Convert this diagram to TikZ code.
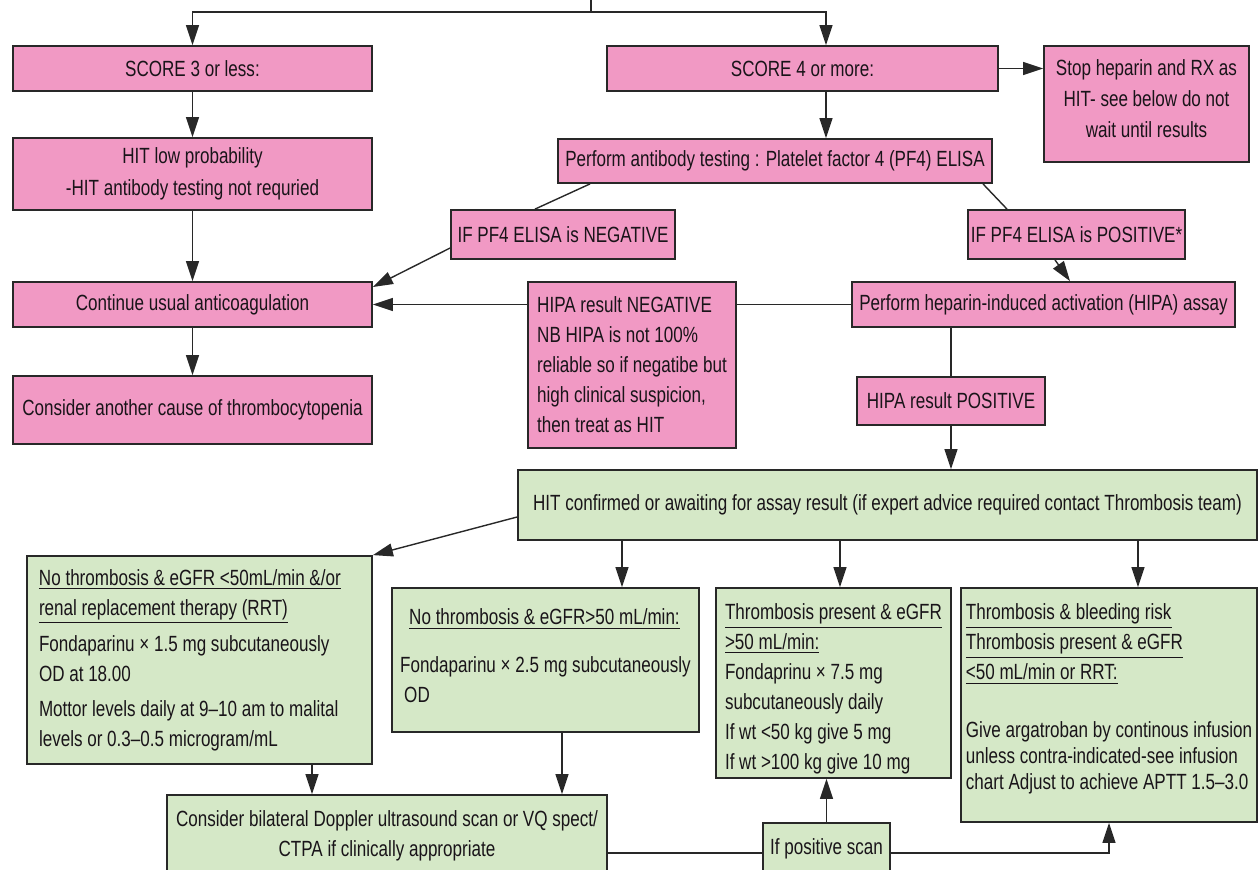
\documentclass[tikz,border=0pt]{standalone}
\usepackage{fontspec}
\setmainfont[FakeStretch=0.775]{Liberation Sans}
\usetikzlibrary{arrows.meta}
\definecolor{pinkfill}{RGB}{241,153,196}
\definecolor{greenfill}{RGB}{213,232,199}
\definecolor{edge}{RGB}{40,40,40}
\definecolor{ink}{RGB}{25,20,25}
\begin{document}
\begin{tikzpicture}[x=0.5pt,y=-0.5pt]
  \tikzstyle{base}=[draw=edge,line width=0.9pt,inner sep=0pt,text=ink,font=\fontsize{11}{15}\selectfont]
  \tikzstyle{pbox}=[base,fill=pinkfill,align=center]
  \tikzstyle{gbox}=[base,fill=greenfill,align=left]
  \tikzstyle{lin}=[draw=edge,line width=0.7pt]
  \tikzstyle{arr}=[lin,-{Triangle[width=6.5pt,length=10pt]}]
  \useasboundingbox (0,0) rectangle (1259,869);
  \node(s3)[pbox,minimum width=179.5pt,minimum height=22.5pt] at (192.5,68.5) {SCORE 3 or less:};
  \node(s4)[pbox,minimum width=195.5pt,minimum height=22.5pt] at (802.5,68.5) {SCORE 4 or more:};
  \node(stop)[pbox,minimum width=102.5pt,minimum height=58pt] at (1146.5,104)
    {Stop heparin and RX as\\[0.5pt] HIT- see below do not\\[0.5pt] wait until results\\[-10pt]\mbox{}};
  \node(low)[pbox,minimum width=179.5pt,minimum height=36pt] at (192.5,174)
    {HIT low probability\\[1pt] -HIT antibody testing not requried};
  \node(pf4)[pbox,minimum width=217pt,minimum height=22pt] at (775,161)
    {Perform antibody testing : Platelet factor 4 (PF4) ELISA};
  \node(neg)[pbox,minimum width=112pt,minimum height=24.5pt] at (563,234.5) {IF PF4 ELISA is NEGATIVE};
  \node(pos)[pbox,minimum width=108.5pt,minimum height=24.5pt] at (1076.5,234.5) {IF PF4 ELISA is POSITIVE*};
  \node(cont)[pbox,minimum width=179.5pt,minimum height=22.5pt] at (192.5,304.5) {Continue usual anticoagulation};
  \node(other)[pbox,minimum width=179.5pt,minimum height=34pt] at (192.5,410)
    {Consider another cause of thrombocytopenia};
  \node(hneg)[pbox,align=left,minimum width=104pt,minimum height=83pt] at (632,365)
    {HIPA result NEGATIVE\\ NB HIPA is not 100\%\\ reliable so if negatibe but\\ high clinical suspicion,\\ then treat as HIT};
  \node(assay)[pbox,minimum width=191.5pt,minimum height=22.5pt] at (1043.5,304.5)
    {Perform heparin-induced activation (HIPA) assay};
  \node(hpos)[pbox,minimum width=94pt,minimum height=24pt] at (951,401) {HIPA result POSITIVE};
  \node(conf)[gbox,align=center,minimum width=369.5pt,minimum height=35pt] at (887.5,505)
    {HIT confirmed or awaiting for assay result (if expert advice required contact Thrombosis team)};
  \node(g1)[gbox,align=flush left,text width=160.5pt,inner xsep=6pt,minimum width=172.5pt,minimum height=104pt] at (199.5,660)
    {\underline{No thrombosis \& eGFR <50mL/min \&/or}\\
     \underline{renal replacement therapy (RRT)}\\[3pt]
     Fondaparinu × 1.5 mg subcutaneously\\
     OD at 18.00\\[2.5pt]
     Mottor levels daily at 9–10 am to malital\\
     levels or 0.3–0.5 microgram/mL};
  \node(g2)[gbox,minimum width=153.5pt,minimum height=72pt] at (545.5,660)
    {\hspace*{4.5pt}\underline{No thrombosis \& eGFR>50 mL/min:}\\[9pt]
     Fondaparinu × 2.5 mg subcutaneously\\
     \hspace*{2pt}OD\\[-11pt]\mbox{}};
  \node(g3)[gbox,minimum width=117.5pt,minimum height=95pt] at (833.5,683)
    {\mbox{}\\[-1pt]
     \underline{Thrombosis present \& eGFR}\\
     \underline{>50 mL/min:}\\
     Fondaprinu × 7.5 mg\\
     subcutaneously daily\\
     If wt <50 kg give 5 mg\\
     If wt >100 kg give 10 mg};
  \node(g4)[gbox,minimum width=148pt,minimum height=117pt] at (1109,705)
    {\underline{Thrombosis \& bleeding risk}\\
     \underline{Thrombosis present \& eGFR}\\
     \underline{<50 mL/min or RRT:}\\[14pt]
     Give argatroban by continous infusion\\[-2pt]
     unless contra-indicated-see infusion\\[-2pt]
     chart Adjust to achieve APTT 1.5–3.0\\[-7pt]
     \mbox{}};
  \node(dop)[gbox,align=center,minimum width=220pt,minimum height=41pt] at (387,836)
    {Consider bilateral Doppler ultrasound scan or VQ spect/\\
     CTPA if clinically appropriate\\[-12.5pt]\mbox{}};
  \node(ifpos)[gbox,align=center,minimum width=63.5pt,minimum height=26pt] at (826.5,849)
    {If positive scan\\[-12.5pt]\mbox{}};
  \coordinate(top) at (591,0);
  \coordinate(split) at (591,12);
  \draw[lin] (top) -- (split);
  \draw[arr] (split) -| (s3.north);
  \draw[arr] (split) -| (s4.north -| 826,0);
  \draw[arr] (s3) -- (low);
  \draw[arr] (s4.east) -- (s4.east -| stop.west);
  \draw[arr] (s4.south -| 826,0) -- (pf4.north -| 826,0);
  \draw[arr] (low) -- (cont);
  \draw[arr] (cont) -- (other);
  \draw[lin] (pf4.south -| 590,0) -- (neg.north -| 535,0);
  \draw[lin] (pf4.south -| 983,0) -- (pos.north -| 1007,0);
  \draw[arr] (pos.south -| 1055,0) -- (assay.north -| 1070,0);
  \draw[arr] (neg.west |- 0,248) -- (cont.east |- 0,287);
  \draw[lin] (assay.west) -- (hneg.east |- assay.west);
  \draw[arr] (hneg.west |- assay.west) -- (cont.east);
  \draw[lin] (assay.south -| hpos.north) -- (hpos.north);
  \draw[arr] (hpos.south) -- (hpos.south |- conf.north);
  \draw[arr] (conf.west |- 0,517) -- (g1.north east);
  \draw[arr] (conf.south -| 622,0) -- (g2.north -| 622,0);
  \draw[arr] (conf.south -| 840,0) -- (g3.north -| 840,0);
  \draw[arr] (conf.south -| 1138,0) -- (g4.north -| 1138,0);
  \draw[arr] (g1.south -| 312,0) -- (dop.north -| 312,0);
  \draw[arr] (g2.south -| 562,0) -- (dop.north -| 562,0);
  \draw[lin] (dop.east |- 0,853) -- (ifpos.west |- 0,853);
  \draw[arr] (ifpos.east |- 0,853) -| (g4.south);
  \draw[arr] (ifpos.north) -- (ifpos.north |- g3.south);
\end{tikzpicture}
\end{document}
